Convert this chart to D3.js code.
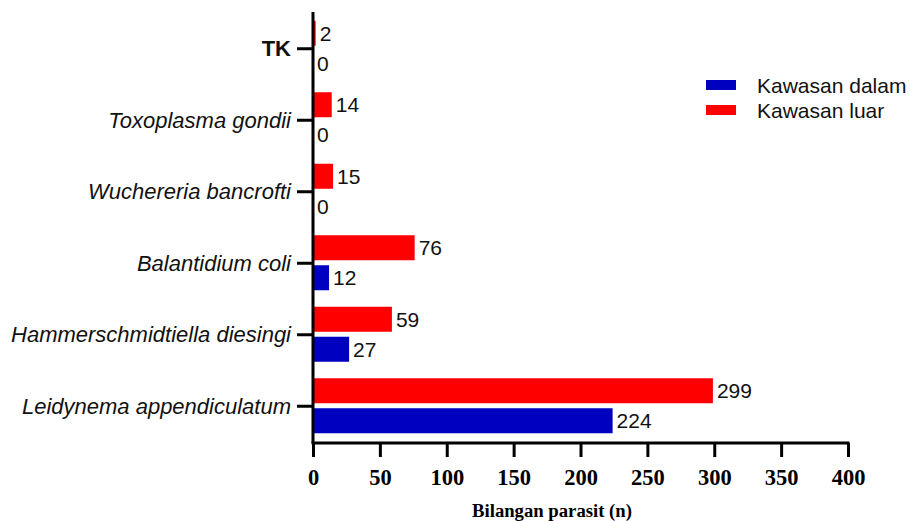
<!DOCTYPE html>
<html>
<head>
<meta charset="utf-8">
<script src="https://cdn.jsdelivr.net/npm/d3@7"></script>
<style>
  html, body { margin: 0; padding: 0; background: #fff; }
  svg { display: block; }
</style>
</head>
<body>
<svg id="chart" width="910" height="521"></svg>
<script>
// Parasite species, listed top to bottom
const categories = [
  "TK",
  "Toxoplasma gondii",
  "Wuchereria bancrofti",
  "Balantidium coli",
  "Hammerschmidtiella diesingi",
  "Leidynema appendiculatum"
];
const seriesNames = ["Kawasan luar", "Kawasan dalam"];
const luarValues  = [2, 14, 15, 76, 59, 299];
const dalamValues = [0, 0, 0, 12, 27, 224];
const xTicks = [0, 50, 100, 150, 200, 250, 300, 350, 400];
const colors = { "Kawasan dalam": "#0000C0", "Kawasan luar": "#FF0000" };

const sans = "Liberation Sans, Arial, sans-serif";
const serif = "Liberation Serif, Times New Roman, serif";

const svg = d3.select("#chart");
const plotLeft = 313, plotRight = 848, plotTop = 12, plotBottom = 441, axisY = 443;

const x = d3.scaleLinear().domain([0, 400]).range([plotLeft, plotRight]);
const y = d3.scaleBand().domain(categories).range([plotTop, plotBottom]).paddingInner(0);

const barH = 25;
const rows = categories.map((c, i) => ({ c, luar: luarValues[i], dalam: dalamValues[i] }));

// bars: outside-area above the category line, inside-area below
const g = svg.append("g");
rows.forEach(r => {
  const cy = y(r.c) + y.bandwidth() / 2;
  const bars = [
    { v: r.luar,  y0: cy - 27, col: colors["Kawasan luar"] },
    { v: r.dalam, y0: cy + 3,  col: colors["Kawasan dalam"] }
  ];
  bars.forEach(b => {
    g.append("rect")
      .attr("x", x(0))
      .attr("y", b.y0)
      .attr("width", x(b.v) - x(0))
      .attr("height", barH)
      .attr("fill", b.col);
    g.append("text")
      .attr("x", x(b.v) + 4)
      .attr("y", b.y0 + barH / 2)
      .attr("dy", "0.36em")
      .attr("font-family", sans)
      .attr("font-size", 21)
      .attr("fill", "#111")
      .text(b.v);
  });
});

// x axis
const xAxis = svg.append("g")
  .attr("transform", `translate(0,${axisY})`)
  .call(d3.axisBottom(x).tickValues(xTicks).tickSize(14).tickSizeOuter(0));
xAxis.select(".domain").attr("stroke", "#000").attr("stroke-width", 3)
  .attr("d", `M${plotLeft - 1.5},0H${plotRight + 1.5}`);
xAxis.selectAll(".tick line").attr("stroke", "#000").attr("stroke-width", 3);
xAxis.selectAll(".tick text")
  .attr("y", 42)
  .attr("dy", 0)
  .attr("font-family", serif)
  .attr("font-weight", "bold")
  .attr("font-size", 22.5)
  .attr("fill", "#000");

// y axis
const yAxis = svg.append("g")
  .attr("transform", `translate(${plotLeft},0)`)
  .call(d3.axisLeft(y).tickSize(16).tickPadding(6).tickSizeOuter(0));
yAxis.select(".domain").attr("stroke", "#000").attr("stroke-width", 3)
  .attr("d", `M0,${plotTop}V${axisY}`);
yAxis.selectAll(".tick line").attr("stroke", "#000").attr("stroke-width", 3)
  .attr("transform", "translate(0,1)");
yAxis.selectAll(".tick text")
  .attr("font-family", sans)
  .attr("font-size", 22)
  .attr("fill", "#111")
  .attr("dy", "0.38em")
  .attr("font-style", d => d === "TK" ? "normal" : "italic")
  .attr("font-weight", d => d === "TK" ? "bold" : "normal");

// axis title
svg.append("text")
  .attr("x", 552)
  .attr("y", 517)
  .attr("text-anchor", "middle")
  .attr("font-family", serif)
  .attr("font-weight", "bold")
  .attr("font-size", 18.7)
  .attr("fill", "#000")
  .text("Bilangan parasit (n)");

// legend
const legend = svg.append("g");
["Kawasan dalam", "Kawasan luar"].forEach((name, i) => {
  const cyL = 85 + i * 25;
  legend.append("rect")
    .attr("x", 706).attr("y", cyL - 5).attr("width", 30).attr("height", 10)
    .attr("fill", colors[name]);
  legend.append("text")
    .attr("x", 757).attr("y", cyL).attr("dy", "0.36em")
    .attr("font-family", sans)
    .attr("font-size", 21)
    .attr("fill", "#111")
    .text(name);
});
</script>
</body>
</html>
